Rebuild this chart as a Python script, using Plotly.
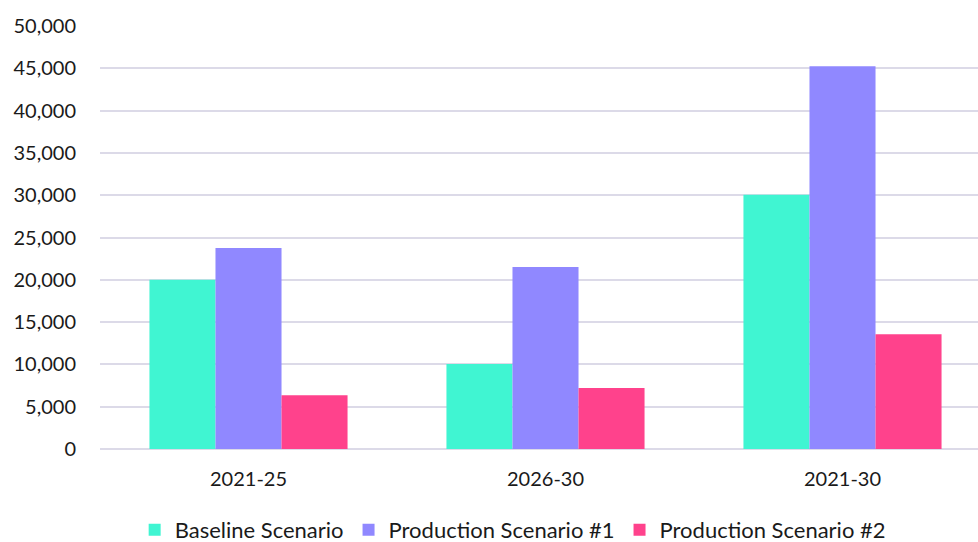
import plotly.graph_objects as go

categories = ["2021-25", "2026-30", "2021-30"]
baseline = [20000, 10050, 30050]
prod1 = [23750, 21500, 45250]
prod2 = [6350, 7200, 13550]
series_names = ["Baseline Scenario", "Production Scenario #1", "Production Scenario #2"]
colors = ["#40F5D2", "#9088FF", "#FF428C"]
ytick_vals = list(range(0, 50001, 5000))
ytick_text = [f"{v:,}" for v in ytick_vals]

FONT = "Lato, Carlito, Calibri, sans-serif"

fig = go.Figure()
for name, vals, col in zip(series_names, [baseline, prod1, prod2], colors):
    fig.add_trace(go.Bar(x=categories, y=vals, name=name, marker_color=col,
                         marker_line_width=0))

fig.update_layout(
    width=978, height=542,
    margin=dict(l=100, r=0, t=26, b=93, autoexpand=False),
    plot_bgcolor="white", paper_bgcolor="white",
    barmode="group", bargap=0.333, bargroupgap=0,
    font=dict(family=FONT, size=20, color="#1a1a1a"),
    legend=dict(orientation="h", x=0.47, xanchor="center",
                yref="container", y=(542 - 530) / 542, yanchor="middle",
                font=dict(size=22), itemwidth=30, traceorder="normal"),
    showlegend=True,
)
fig.update_xaxes(range=[-0.5, -0.5 + 878 / 297], showgrid=False, showline=False,
                 ticks="", tickfont=dict(size=20), ticklabelstandoff=16)
fig.update_yaxes(range=[0, 50000], tickvals=ytick_vals, ticktext=ytick_text,
                 showgrid=True, gridcolor="#DCDAE8", gridwidth=2,
                 zeroline=True, zerolinecolor="#DCDAE8", zerolinewidth=2,
                 ticks="", ticklabelstandoff=23, showline=False,
                 tickfont=dict(size=20))

fig.write_html("out.html")
